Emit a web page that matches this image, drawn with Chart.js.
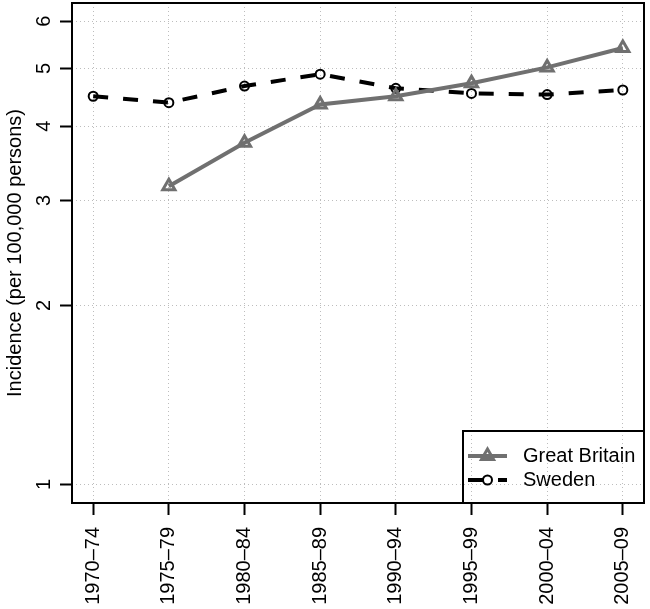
<!DOCTYPE html>
<html>
<head>
<meta charset="utf-8">
<script src="https://cdn.jsdelivr.net/npm/chart.js@4/dist/chart.umd.min.js"></script>
<style>
  html, body { margin: 0; padding: 0; background: #fff; }
</style>
</head>
<body>
<canvas id="myChart" width="650" height="609"></canvas>
<script>
var periods = ["1970–74", "1975–79", "1980–84", "1985–89", "1990–94", "1995–99", "2000–04", "2005–09"];
var yTicks = [1, 2, 3, 4, 5, 6];
var britain = [null, 3.17, 3.75, 4.35, 4.49, 4.72, 5.02, 5.41];
var sweden = [4.49, 4.38, 4.67, 4.89, 4.63, 4.54, 4.52, 4.60];

var FONT = "'Liberation Sans', Arial, Helvetica, sans-serif";
Chart.defaults.font.family = FONT;
Chart.defaults.font.size = 20;
Chart.defaults.color = "#000";

function toPoints(values) {
  return values.map(function (v, i) { return { x: i + 1, y: v }; });
}

function drawMarker(ctx, style, x, y, r, lw, color) {
  ctx.save();
  ctx.lineWidth = lw;
  ctx.strokeStyle = color;
  ctx.setLineDash([]);
  ctx.beginPath();
  if (style === "triangle") {
    for (var k = 0; k < 3; k++) {
      var ang = k * 2 * Math.PI / 3;
      var px = x + Math.sin(ang) * r, py = y - Math.cos(ang) * r;
      if (k === 0) ctx.moveTo(px, py); else ctx.lineTo(px, py);
    }
    ctx.closePath();
  } else {
    ctx.arc(x, y, r, 0, 2 * Math.PI);
  }
  ctx.stroke();
  ctx.restore();
}

// plot box and legend inside the bottom-right corner
var boxAndLegend = {
  id: "boxAndLegend",
  afterDatasetsDraw: function (chart) {
    var ctx = chart.ctx, a = chart.chartArea;
    ctx.save();
    ctx.lineWidth = 2;
    ctx.strokeStyle = "#000";
    ctx.setLineDash([]);
    ctx.strokeRect(a.left, a.top, a.right - a.left, a.bottom - a.top);

    var w = 181, h = 72, left = a.right - w, top = a.bottom - h;
    ctx.strokeRect(left, top, w, h);
    chart.data.datasets.forEach(function (ds, i) {
      var y = top + 25 + i * 24;
      ctx.beginPath();
      ctx.setLineDash(ds.borderDash || []);
      ctx.strokeStyle = ds.borderColor;
      ctx.lineWidth = ds.borderWidth;
      ctx.moveTo(left + 5, y);
      ctx.lineTo(left + 44, y);
      ctx.stroke();
      drawMarker(ctx, ds.pointStyle, left + 24.5, y, ds.pointRadius, ds.pointBorderWidth, ds.pointBorderColor);
      ctx.fillStyle = "#000";
      ctx.font = "20px " + FONT;
      ctx.textBaseline = "middle";
      ctx.textAlign = "left";
      ctx.fillText(ds.label, left + 60, y);
    });
    ctx.restore();
  }
};

new Chart("myChart", {
  type: "line",
  data: {
    datasets: [{
      label: "Great Britain",
      data: toPoints(britain),
      borderColor: "#707070",
      borderWidth: 4,
      pointStyle: "triangle",
      pointRadius: 7,
      pointBorderWidth: 3,
      pointBorderColor: "#707070",
      pointBackgroundColor: "rgba(0,0,0,0)",
      tension: 0
    }, {
      label: "Sweden",
      data: toPoints(sweden),
      borderColor: "#000",
      borderWidth: 4,
      borderDash: [15, 15],
      pointStyle: "circle",
      pointRadius: 4.5,
      pointBorderWidth: 2,
      pointBorderColor: "#000",
      pointBackgroundColor: "rgba(0,0,0,0)",
      tension: 0
    }]
  },
  options: {
    responsive: false,
    animation: false,
    events: [],
    layout: { autoPadding: false, padding: { top: 3, right: 6, left: 0, bottom: 0 } },
    plugins: { legend: { display: false }, tooltip: { enabled: false } },
    scales: {
      x: {
        type: "linear",
        min: 0.72,
        max: 8.28,
        afterBuildTicks: function (scale) {
          scale.ticks = periods.map(function (p, i) { return { value: i + 1 }; });
        },
        afterFit: function (scale) {
          scale.height = 106;
          scale.paddingLeft = 0;
          scale.paddingRight = 0;
        },
        ticks: {
          autoSkip: false,
          includeBounds: false,
          minRotation: 90,
          maxRotation: 90,
          padding: 12,
          callback: function (v) { return periods[v - 1] || ""; }
        },
        grid: {
          color: "#bdbdbd",
          lineWidth: 1,
          tickColor: "#000",
          tickWidth: 2,
          tickLength: 12,
          tickBorderDash: []
        },
        border: { display: false, dash: [1, 3] }
      },
      y: {
        type: "logarithmic",
        min: 0.931,
        max: 6.44,
        afterBuildTicks: function (scale) {
          scale.ticks = yTicks.map(function (v) { return { value: v }; });
        },
        afterFit: function (scale) {
          scale.width = 72;
          scale.paddingTop = 0;
          scale.paddingBottom = 0;
        },
        ticks: {
          minRotation: 90,
          maxRotation: 90,
          crossAlign: "center",
          padding: 10,
          callback: function (v) { return String(v); }
        },
        grid: {
          color: "#bdbdbd",
          lineWidth: 1,
          tickColor: "#000",
          tickWidth: 2,
          tickLength: 12,
          tickBorderDash: []
        },
        border: { display: false, dash: [1, 3] },
        title: {
          display: true,
          text: "Incidence (per 100,000 persons)",
          padding: { top: 3, bottom: 0 }
        }
      }
    }
  },
  plugins: [boxAndLegend]
});
</script>
</body>
</html>
